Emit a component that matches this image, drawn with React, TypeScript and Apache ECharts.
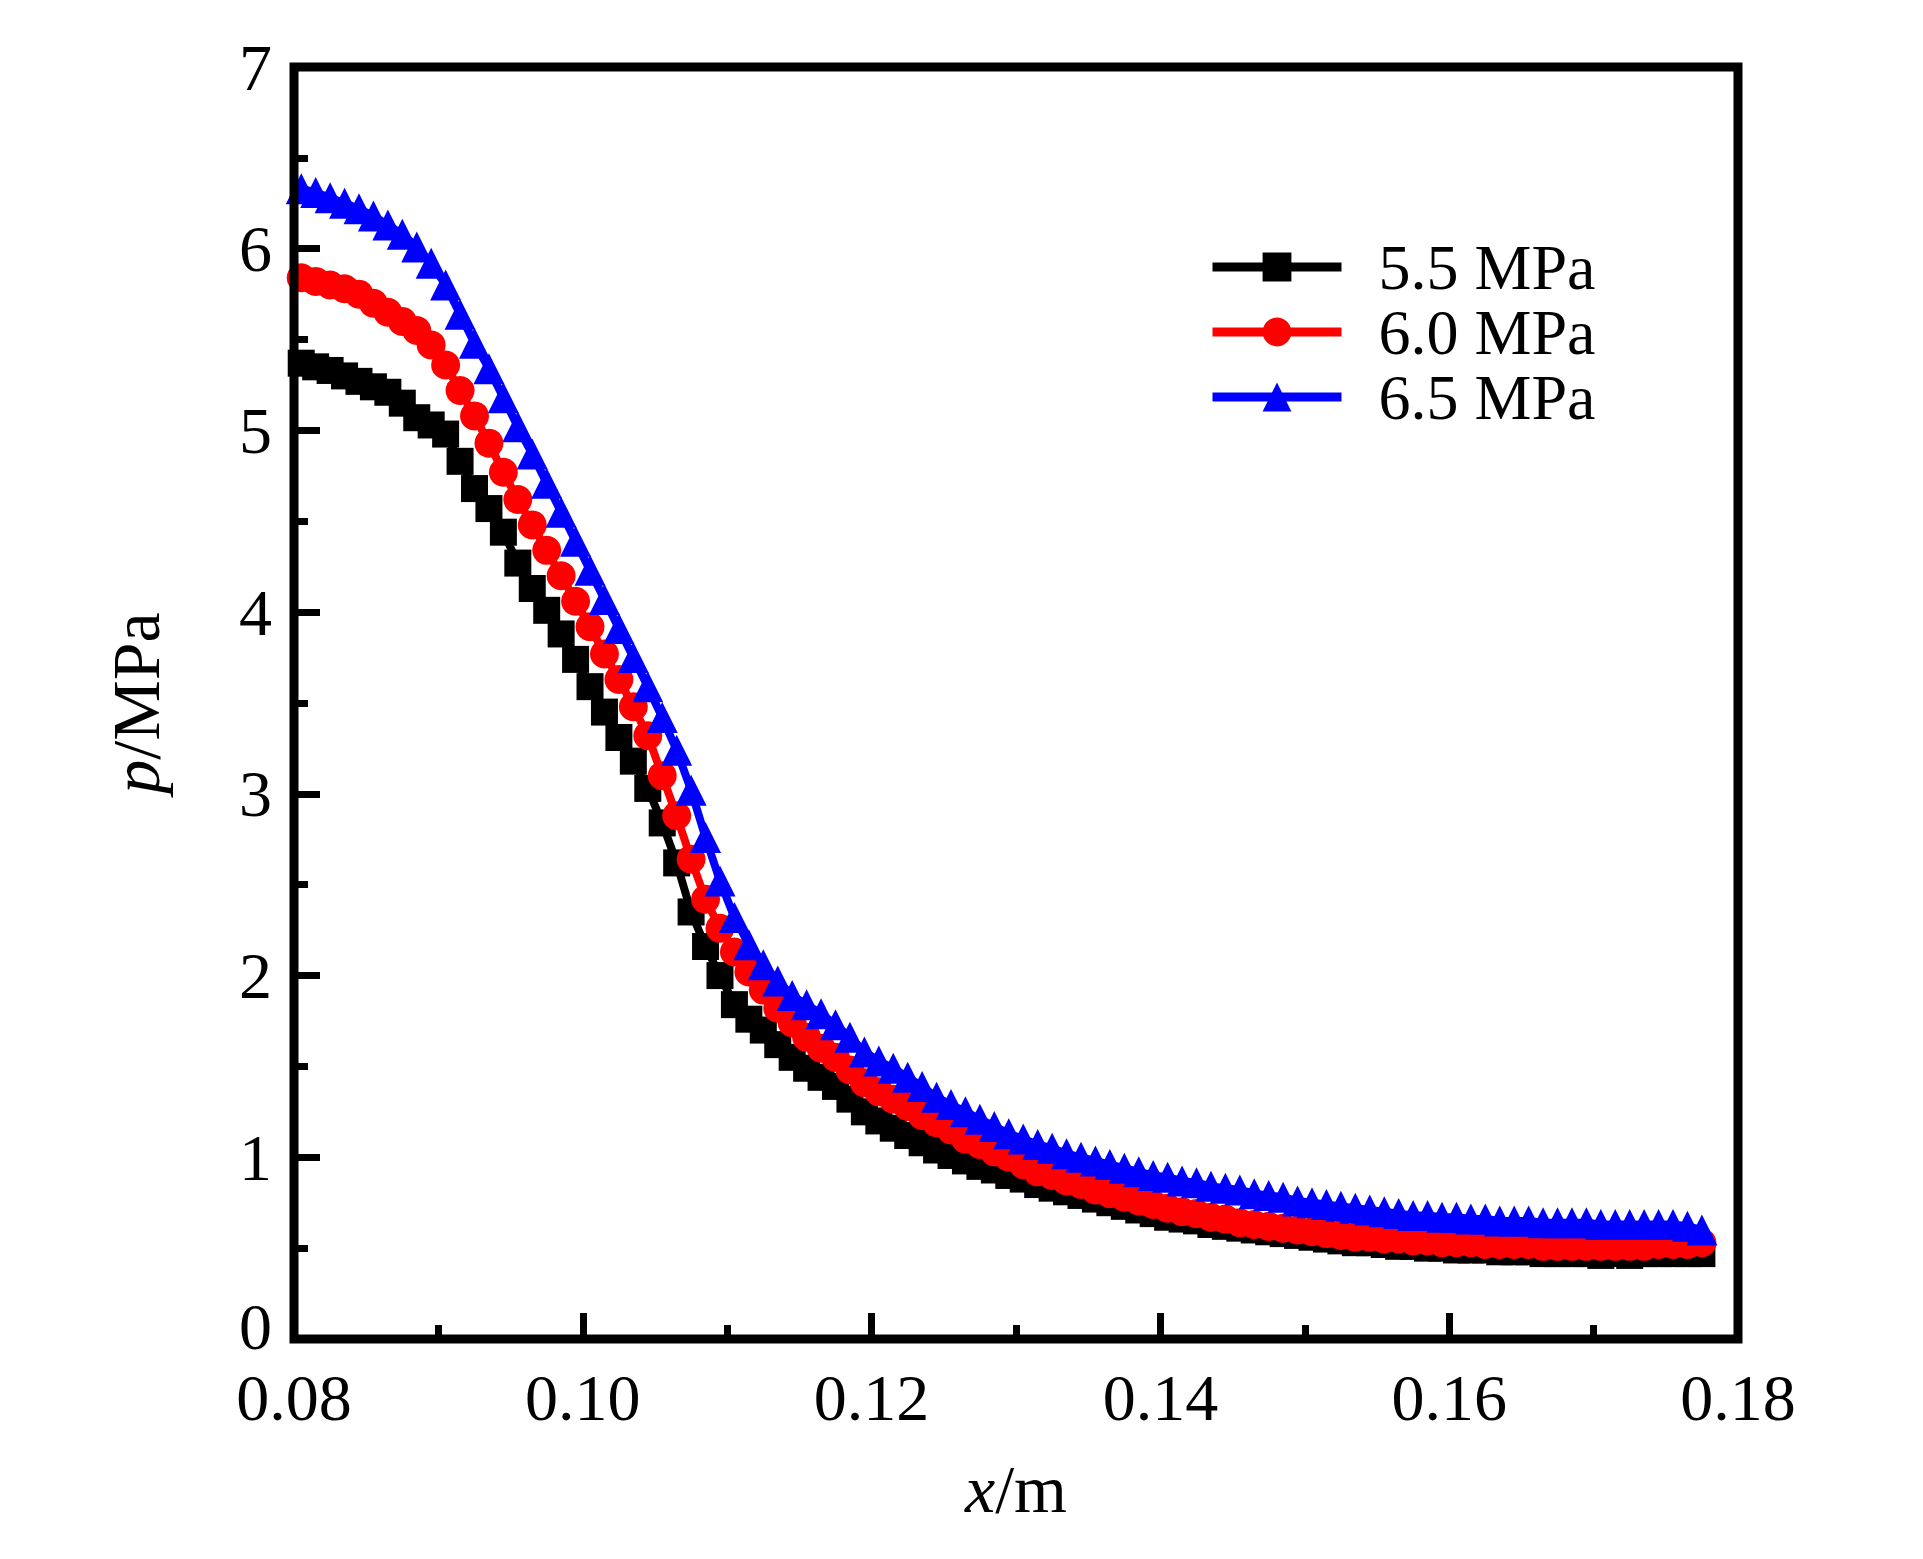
import React, { useEffect, useRef } from "react";
import * as echarts from "echarts";

const xValues = [
  0.0805, 0.0815, 0.0825, 0.0835, 0.0845, 0.0855, 0.0865, 0.0875, 0.0885, 0.0895,
  0.0905, 0.0915, 0.0925, 0.0935, 0.0945, 0.0955, 0.0965, 0.0975, 0.0985, 0.0995,
  0.1005, 0.1015, 0.1025, 0.1035, 0.1045, 0.1055, 0.1065, 0.1075, 0.1085, 0.1095,
  0.1105, 0.1115, 0.1125, 0.1135, 0.1145, 0.1155, 0.1165, 0.1175, 0.1185, 0.1195,
  0.1205, 0.1215, 0.1225, 0.1235, 0.1245, 0.1255, 0.1265, 0.1275, 0.1285, 0.1295,
  0.1305, 0.1315, 0.1325, 0.1335, 0.1345, 0.1355, 0.1365, 0.1375, 0.1385, 0.1395,
  0.1405, 0.1415, 0.1425, 0.1435, 0.1445, 0.1455, 0.1465, 0.1475, 0.1485, 0.1495,
  0.1505, 0.1515, 0.1525, 0.1535, 0.1545, 0.1555, 0.1565, 0.1575, 0.1585, 0.1595,
  0.1605, 0.1615, 0.1625, 0.1635, 0.1645, 0.1655, 0.1665, 0.1675, 0.1685, 0.1695,
  0.1705, 0.1715, 0.1725, 0.1735, 0.1745, 0.1755, 0.1765, 0.1775,
];

const p55 = [
  5.37, 5.35, 5.33, 5.3, 5.27, 5.24, 5.21, 5.15, 5.07, 5.03,
  4.98, 4.83, 4.68, 4.57, 4.44, 4.27, 4.13, 4.01, 3.88, 3.74,
  3.59, 3.45, 3.31, 3.18, 3.03, 2.84, 2.62, 2.35, 2.16, 2.0,
  1.84, 1.76, 1.7, 1.62, 1.55, 1.49, 1.44, 1.39, 1.32, 1.25,
  1.2, 1.16, 1.12, 1.08, 1.04, 1.01, 0.98, 0.95, 0.93, 0.9,
  0.88, 0.85, 0.83, 0.81, 0.79, 0.77, 0.75, 0.73, 0.71, 0.69,
  0.67, 0.66, 0.65, 0.63, 0.62, 0.61, 0.6, 0.59, 0.58, 0.57,
  0.56, 0.55, 0.54, 0.53, 0.53, 0.52, 0.51, 0.51, 0.5, 0.5,
  0.49, 0.49, 0.49, 0.48, 0.48, 0.48, 0.47, 0.47, 0.47, 0.47,
  0.46, 0.47, 0.46, 0.47, 0.47, 0.47, 0.47, 0.47,
];

const p60 = [
  5.84, 5.82, 5.8, 5.78, 5.75, 5.7, 5.65, 5.6, 5.55, 5.47,
  5.36, 5.22, 5.08, 4.93, 4.77, 4.62, 4.48, 4.34, 4.2, 4.06,
  3.92, 3.77, 3.63, 3.48, 3.32, 3.1, 2.88, 2.64, 2.42, 2.26,
  2.13, 2.02, 1.92, 1.82, 1.74, 1.66, 1.6, 1.55, 1.48, 1.41,
  1.36, 1.32, 1.28, 1.23, 1.19, 1.15, 1.1, 1.07, 1.03, 1.0,
  0.96, 0.92, 0.9, 0.87, 0.85, 0.82, 0.8, 0.78, 0.76, 0.74,
  0.72, 0.7, 0.69, 0.67, 0.66, 0.64, 0.63, 0.62, 0.61, 0.6,
  0.59, 0.58, 0.57, 0.56, 0.56, 0.55, 0.55, 0.54, 0.54, 0.53,
  0.53, 0.53, 0.52, 0.52, 0.52, 0.52, 0.51, 0.51, 0.51, 0.51,
  0.51, 0.51, 0.51, 0.51, 0.52, 0.52, 0.52, 0.53,
];

const p65 = [
  6.33, 6.31, 6.28, 6.25, 6.22, 6.18, 6.13, 6.08, 6.01, 5.92,
  5.8, 5.64, 5.48, 5.34, 5.18, 5.02, 4.87, 4.71, 4.55, 4.39,
  4.23, 4.07, 3.91, 3.75, 3.59, 3.42, 3.24, 3.02, 2.76, 2.52,
  2.32, 2.17, 2.06, 1.97, 1.89, 1.84, 1.79, 1.73, 1.66, 1.58,
  1.53, 1.49, 1.44, 1.39, 1.33, 1.29, 1.25, 1.21, 1.17, 1.13,
  1.1, 1.07, 1.05, 1.02, 1.0, 0.98, 0.96, 0.94, 0.92, 0.9,
  0.89, 0.87, 0.86, 0.84, 0.83, 0.82, 0.8, 0.79, 0.78, 0.76,
  0.75, 0.74, 0.73, 0.72, 0.71, 0.7, 0.69, 0.68, 0.68, 0.67,
  0.67, 0.66, 0.66, 0.65, 0.65, 0.65, 0.64, 0.64, 0.64, 0.64,
  0.63, 0.63, 0.63, 0.63, 0.63, 0.63, 0.62, 0.6,
];

const seriesNames = ["5.5 MPa", "6.0 MPa", "6.5 MPa"];
const seriesColors = ["#000000", "#ff0000", "#0000ff"];
const seriesSymbols = ["rect", "circle", "triangle"];
const seriesSymbolSizes = [27, 29, 31];
const seriesValues = [p55, p60, p65];

const FONT = "'Liberation Serif', 'Times New Roman', serif";
const FS = 68;
const TFS = 66;
const LFS = 64;

export default function App() {
  const ref = useRef<HTMLDivElement>(null);

  useEffect(() => {
    if (!ref.current) return;
    const chart = echarts.init(ref.current, null, { renderer: "svg" });

    const series = seriesValues.map((vals, si) => ({
      name: seriesNames[si],
      type: "line",
      data: xValues.map((x, i) => [x, vals[i]]),
      symbol: seriesSymbols[si],
      symbolSize: seriesSymbolSizes[si],
      showSymbol: true,
      showAllSymbol: true,
      color: seriesColors[si],
      itemStyle: { color: seriesColors[si] },
      lineStyle: { color: seriesColors[si], width: 8 },
      z: 2 + si,
    }));

    chart.setOption({
      animation: false,
      backgroundColor: "#ffffff",
      textStyle: { fontFamily: FONT, color: "#000" },
      grid: {
        left: 294,
        right: 1923 - 1738,
        top: 67,
        bottom: 1559 - 1339,
        show: true,
        borderColor: "#000",
        borderWidth: 9,
        backgroundColor: "transparent",
        z: 10,
      },
      legend: {
        orient: "vertical",
        left: 1208,
        top: 235,
        padding: 0,
        itemWidth: 129,
        itemHeight: 36,
        itemGap: 1,
        selectedMode: false,
        data: seriesNames,
        lineStyle: { width: 9 },
        textStyle: {
          fontFamily: FONT,
          fontSize: LFS,
          lineHeight: 64,
          color: "#000",
          padding: [0, 0, 0, 32],
        },
      },
      xAxis: {
        type: "value",
        min: 0.08,
        max: 0.18,
        interval: 0.02,
        name: "{i|x}{n|/m}",
        nameLocation: "middle",
        nameGap: 116,
        nameTextStyle: {
          rich: {
            i: { fontFamily: FONT, fontSize: FS, fontStyle: "italic", color: "#000" },
            n: { fontFamily: FONT, fontSize: FS, color: "#000" },
          },
        },
        axisLine: { show: false },
        splitLine: { show: false },
        axisTick: {
          show: true,
          inside: true,
          length: 26,
          lineStyle: { color: "#000", width: 7 },
        },
        minorTick: {
          show: true,
          splitNumber: 2,
          length: 14,
          lineStyle: { color: "#000", width: 7 },
        },
        axisLabel: {
          fontFamily: FONT,
          fontSize: TFS,
          lineHeight: 50,
          color: "#000",
          margin: 33,
          formatter: (v: number) => v.toFixed(2),
        },
      },
      yAxis: {
        type: "value",
        min: 0,
        max: 7,
        interval: 1,
        name: "{i|p}{n|/MPa}",
        nameLocation: "middle",
        nameGap: 124,
        nameTextStyle: {
          rich: {
            i: { fontFamily: FONT, fontSize: FS, fontStyle: "italic", color: "#000" },
            n: { fontFamily: FONT, fontSize: FS, color: "#000" },
          },
        },
        axisLine: { show: false },
        splitLine: { show: false },
        axisTick: {
          show: true,
          inside: true,
          length: 26,
          lineStyle: { color: "#000", width: 7 },
        },
        minorTick: {
          show: true,
          splitNumber: 2,
          length: 14,
          lineStyle: { color: "#000", width: 7 },
        },
        axisLabel: {
          fontFamily: FONT,
          fontSize: TFS,
          color: "#000",
          margin: 22,
          formatter: (v: number) => (v === 0 ? "{z|0}" : String(v)),
          rich: {
            z: {
              fontFamily: FONT,
              fontSize: TFS,
              lineHeight: 52,
              color: "#000",
              padding: [0, 0, 26, 0],
            },
          },
        },
      },
      series,
    });

    return () => {
      chart.dispose();
    };
  }, []);

  return (
    <div
      ref={ref}
      style={{
        position: "fixed",
        left: 0,
        top: 0,
        width: 1923,
        height: 1559,
        background: "#fff",
      }}
    />
  );
}
